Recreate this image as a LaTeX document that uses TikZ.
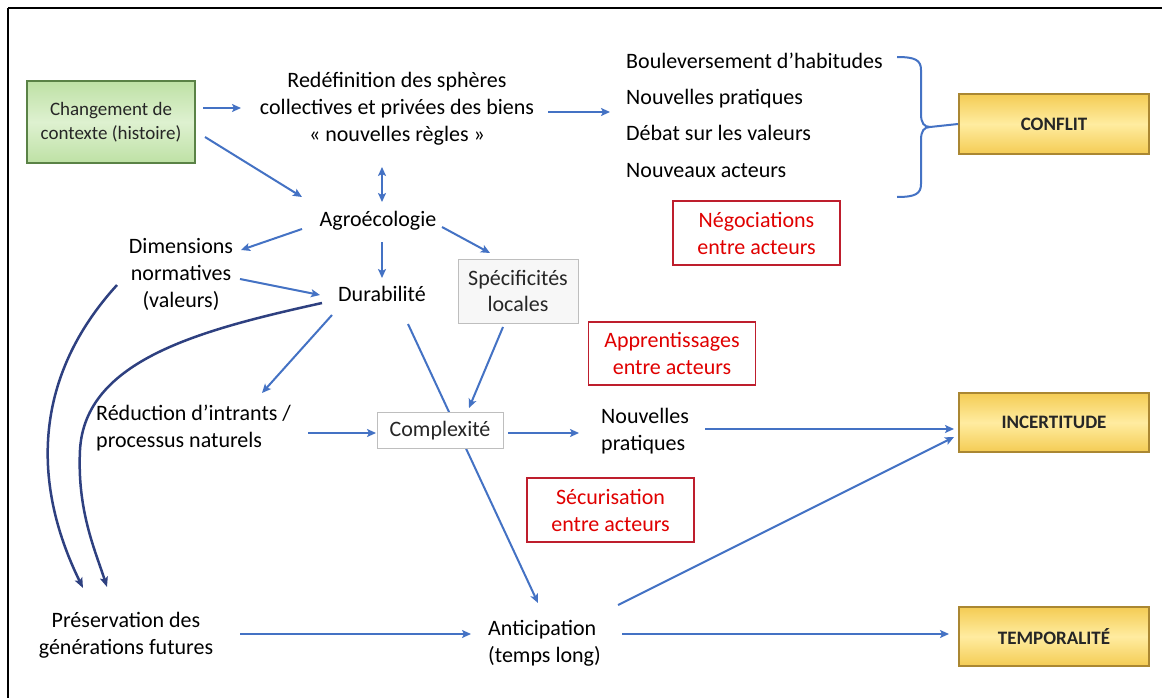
\documentclass[tikz,border=0pt]{standalone}
\usepackage{fontspec}
\setmainfont{Carlito}
\usetikzlibrary{arrows.meta,calc}
\definecolor{arrowblue}{RGB}{68,114,196}
\definecolor{navyline}{RGB}{46,64,128}
\definecolor{redtxt}{RGB}{224,0,0}
\definecolor{redbrd}{RGB}{190,30,45}
\definecolor{goldA}{RGB}{244,204,84}
\definecolor{goldB}{RGB}{255,236,160}
\definecolor{goldbrd}{RGB}{170,135,50}
\definecolor{greenA}{RGB}{190,225,165}
\definecolor{greenB}{RGB}{222,241,208}
\definecolor{greenbrd}{RGB}{90,130,70}
\definecolor{graybrd}{RGB}{190,190,190}
\begin{document}
\begin{tikzpicture}[x=1pt,y=-1pt,
  txt/.style={inner sep=0pt, align=center, text=black, font=\fontsize{22}{27}\selectfont},
  txtl/.style={inner sep=0pt, align=left, text=black, font=\fontsize{22}{27}\selectfont},
  goldbox/.style={draw=goldbrd, line width=2pt, top color=goldA, bottom color=goldA, middle color=goldB,
     minimum width=190pt, minimum height=59pt, inner sep=0pt, text=black!85,
     font=\fontsize{19}{23}\selectfont\bfseries},
  greenbox/.style={draw=greenbrd, line width=1.5pt, top color=greenA, bottom color=greenA, middle color=greenB,
     minimum width=168pt, minimum height=82pt, inner sep=0pt, align=center, text=black!85,
     font=\fontsize{19}{23.5}\selectfont},
  redbox/.style={draw=redbrd, line width=1.2pt, fill=white, minimum width=167pt, minimum height=63pt,
     inner sep=0pt, align=center, text=redtxt, font=\fontsize{22}{27}\selectfont},
  graybox/.style={draw=graybrd, line width=1pt, fill=white!97!black, inner sep=0pt, align=center,
     text=black!85, font=\fontsize{22}{26}\selectfont},
  arr/.style={draw=arrowblue, line width=2pt, -{Stealth[length=9pt,width=8pt,inset=2pt]}},
  darr/.style={draw=arrowblue, line width=2pt, {Stealth[length=9pt,width=8pt,inset=2pt]}-{Stealth[length=9pt,width=8pt,inset=2pt]}},
  curv/.style={draw=navyline, line width=2.5pt, -{Stealth[length=10pt,width=8pt,inset=2pt]}},
  bracestyle/.style={draw=arrowblue, line width=2pt}
]
\useasboundingbox (0,0) rectangle (1162,698);
\fill[white] (0,0) rectangle (1162,698);
% frame (top and left only)
\draw[line width=2.5pt] (8,8) -- (1162,8);
\draw[line width=2.5pt] (8,8) -- (8,698);

% nodes
\node[greenbox] (chg) at (111,122) {Changement de\\contexte (histoire)};
\node[txt] (redef) at (397,109) {Redéfinition des sphères\\collectives et privées des biens\\« nouvelles règles »};
\node[txtl, anchor=base west] (b1) at (626,69) {Bouleversement d’habitudes};
\node[txtl, anchor=base west] (b2) at (626,105) {Nouvelles pratiques};
\node[txtl, anchor=base west] (b3) at (626,141) {Débat sur les valeurs};
\node[txtl, anchor=base west] (b4) at (626,177) {Nouveaux acteurs};
\node[goldbox, minimum height=60pt] (conflit) at (1054,124) {CONFLIT};
\node[redbox, minimum height=64pt] (nego) at (756.5,233) {Négociations\\entre acteurs};
\node[txt, anchor=base] (agro) at (378,226) {Agroécologie};
\node[txt] (dim) at (181,274) {Dimensions\\normatives\\(valeurs)};
\node[txt, anchor=base] (dur) at (382,301) {Durabilité};
\node[graybox, minimum width=120pt, minimum height=64pt] (spec) at (518,291) {Spécificités\\locales};
\node[redbox] (app) at (672,353.5) {Apprentissages\\entre acteurs};
\node[txtl, anchor=west] (red2) at (96,428.5) {Réduction d’intrants /\\processus naturels};
\node[txtl, anchor=west] (np) at (601,431) {Nouvelles\\pratiques};
\node[goldbox] (inc) at (1054,422.5) {INCERTITUDE};
\node[redbox, minimum height=64pt] (secu) at (610.5,510) {Sécurisation\\entre acteurs};
\node[txt] (pres) at (126,635) {Préservation des\\générations futures};
\node[txtl, anchor=west] (anti) at (488,643.5) {Anticipation\\(temps long)};
\node[goldbox] (temp) at (1054,636.5) {TEMPORALITÉ};

% line from Durabilité to Anticipation passes behind Complexité
\draw[arr] ($(dur.base)+(26,23)$) -- ($(anti.west)+(50,-40.5)$);
\node[graybox, minimum width=126pt, minimum height=36pt, fill=white] (cplx) at (440,430.5) {Complexité};

% brace
\draw[bracestyle] (897,57) .. controls (915,57) and (921,60) .. (921,70) -- (921,114)
   .. controls (921,123) and (924,127) .. (930,127);
\draw[bracestyle] (897,197) .. controls (915,197) and (921,194) .. (921,184) -- (921,140)
   .. controls (921,131) and (924,127) .. (930,127) -- (conflit.west);

% connectors
\draw[arr] ($(chg)+(92,-14)$) -- ($(redef)+(-156,-1)$);
\draw[arr] ($(redef)+(151,3)$) -- ($(b2.base west)+(-16,7)$);
\draw[arr] ($(chg)+(94,15)$) -- ($(agro.base)+(-76,-29)$);
\draw[darr] ($(redef)+(-15,58)$) -- ($(agro.base)+(4,-24)$);
\draw[arr] ($(agro.base)+(-76,3)$) -- ($(dim)+(60,-24)$);
\draw[arr] ($(agro.base)+(4,16)$) -- ($(dur.base)+(0,-23)$);
\draw[arr] ($(agro.base)+(64,1)$) -- ($(spec)+(-28,-38)$);
\draw[arr] ($(dim)+(59,5)$) -- ($(dur.base)+(-62,-6)$);
\draw[arr] ($(dur.base)+(-50,14)$) -- ($(red2.west)+(166,-35.5)$);
\draw[arr] ($(spec)+(-15,36)$) -- ($(cplx)+(29,-22.5)$);
\draw[arr] ($(red2.west)+(212,4.5)$) -- ($(cplx)+(-64,2.5)$);
\draw[arr] ($(cplx)+(68,2.5)$) -- ($(np.west)+(-22,2)$);
\draw[arr] ($(np.west)+(104,-2)$) -- ($(inc)+(-100,6.5)$);
\draw[arr] ($(pres)+(114,-1)$) -- ($(anti.west)+(-17,-9.5)$);
\draw[arr] ($(anti.west)+(130,-38.5)$) -- ($(inc)+(-100,14.5)$);
\draw[arr] ($(anti.west)+(134,-9.5)$) -- ($(temp)+(-105,-2.5)$);

% long curved arrows to Préservation
\draw[curv] ($(dim)+(-64,11)$) .. controls (35,375) and (30,480) .. ($(pres)+(-43,-47)$);
\draw[curv] ($(dur.base)+(-60,2)$) .. controls (200,330) and (85,360) .. (80,450)
   .. controls (77,510) and (95,550) .. ($(pres)+(-19,-48)$);
\end{tikzpicture}
\end{document}
